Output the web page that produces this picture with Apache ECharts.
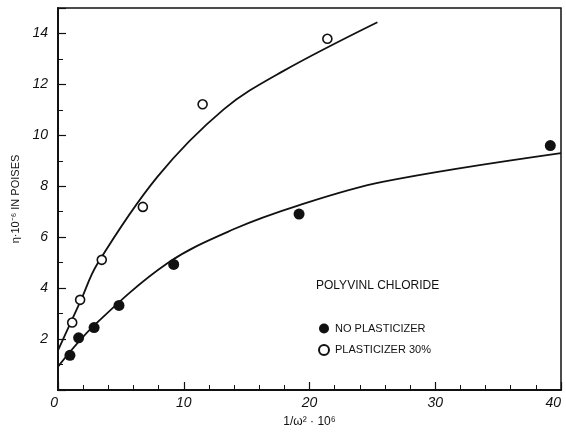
<!DOCTYPE html>
<html>
<head>
<meta charset="utf-8">
<script src="https://cdn.jsdelivr.net/npm/echarts@6/dist/echarts.min.js"></script>
<style>
  html, body { margin: 0; padding: 0; background: #fff; }
  #chart { width: 566px; height: 433px; }
</style>
</head>
<body>
<div id="chart"></div>
<script>
// measured points, x = 1/w^2 * 10^6, y = viscosity * 10^-6 poises
const noPlastX = [0.95, 1.64, 2.87, 4.85, 9.2, 19.17, 39.15];
const noPlastY = [1.36, 2.05, 2.45, 3.32, 4.93, 6.91, 9.6];
const plastX = [1.13, 1.76, 3.48, 6.75, 11.5, 21.42];
const plastY = [2.65, 3.54, 5.11, 7.19, 11.22, 13.79];

// hand-drawn curves
const lowCurveX = [0, 2.9, 8.7, 14, 19.2, 25.8, 40];
const lowCurveY = [0.92, 2.55, 4.98, 6.32, 7.26, 8.17, 9.3];
const highCurveX = [0, 1.8, 3.1, 7.9, 13.2, 17.9, 25.4];
const highCurveY = [1.56, 3.5, 4.93, 8.37, 11.03, 12.52, 14.44];

const zip = (xs, ys) => xs.map((x, i) => [x, ys[i]]);

const chart = echarts.init(document.getElementById('chart'));
const ink = '#111';
const font = 'Liberation Sans';

chart.setOption({
    animation: false,
    backgroundColor: '#fff',
    title: {
        text: 'POLYVINL CHLORIDE',
        left: 311,
        top: 275,
        textStyle: { fontFamily: font, fontSize: 12, fontWeight: 'normal', color: ink }
    },
    legend: {
        data: ['NO PLASTICIZER', 'PLASTICIZER 30%'],
        orient: 'vertical',
        left: 313,
        top: 318,
        itemGap: 10,
        itemWidth: 12,
        itemHeight: 10,
        textStyle: { fontFamily: font, fontSize: 11, color: ink }
    },
    grid: {
        left: 58,
        right: 5,
        top: 8,
        bottom: 41,
        show: true,
        borderColor: ink,
        borderWidth: 1.5
    },
    xAxis: {
        type: 'value',
        min: 0,
        max: 40,
        interval: 10,
        name: '1/\u03c9\u00b2 \u00b7 10\u2076',
        nameLocation: 'middle',
        nameGap: 26,
        nameTextStyle: { fontFamily: font, fontSize: 12, color: ink },
        axisLine: { lineStyle: { color: ink, width: 2 } },
        axisTick: { inside: true, length: 8, lineStyle: { color: ink, width: 1.2 } },
        minorTick: { show: true, splitNumber: 5, length: 5, lineStyle: { color: ink, width: 1 } },
        splitLine: { show: false },
        axisLabel: {
            fontFamily: font, fontSize: 14, fontStyle: 'italic', color: ink, margin: 6,
            alignMinLabel: 'right', alignMaxLabel: 'right'
        }
    },
    yAxis: {
        type: 'value',
        min: 0,
        max: 15,
        interval: 2,
        name: '\u03b7\u00b710\u207b\u2076 IN POISES',
        nameLocation: 'middle',
        nameGap: 34,
        nameTextStyle: { fontFamily: font, fontSize: 11, color: ink },
        axisLine: { lineStyle: { color: ink, width: 2 } },
        axisTick: { inside: true, length: 8, lineStyle: { color: ink, width: 1.2 } },
        minorTick: { show: true, splitNumber: 2, length: 5, lineStyle: { color: ink, width: 1 } },
        splitLine: { show: false },
        axisLabel: {
            fontFamily: font, fontSize: 14, fontStyle: 'italic', color: ink, margin: 10,
            showMinLabel: false, showMaxLabel: false
        }
    },
    series: [
        {
            name: 'low curve',
            type: 'line',
            data: zip(lowCurveX, lowCurveY),
            smooth: 0.35,
            showSymbol: false,
            lineStyle: { color: ink, width: 1.8 },
            z: 2
        },
        {
            name: 'high curve',
            type: 'line',
            data: zip(highCurveX, highCurveY),
            smooth: 0.35,
            showSymbol: false,
            lineStyle: { color: ink, width: 1.8 },
            z: 2
        },
        {
            name: 'NO PLASTICIZER',
            type: 'scatter',
            data: zip(noPlastX, noPlastY),
            symbol: 'circle',
            symbolSize: 11,
            itemStyle: { color: ink, opacity: 1 },
            z: 3
        },
        {
            name: 'PLASTICIZER 30%',
            type: 'scatter',
            data: zip(plastX, plastY),
            symbol: 'circle',
            symbolSize: 9,
            itemStyle: { color: '#fff', borderColor: ink, borderWidth: 1.6, opacity: 1 },
            z: 3
        }
    ]
});
</script>
</body>
</html>
